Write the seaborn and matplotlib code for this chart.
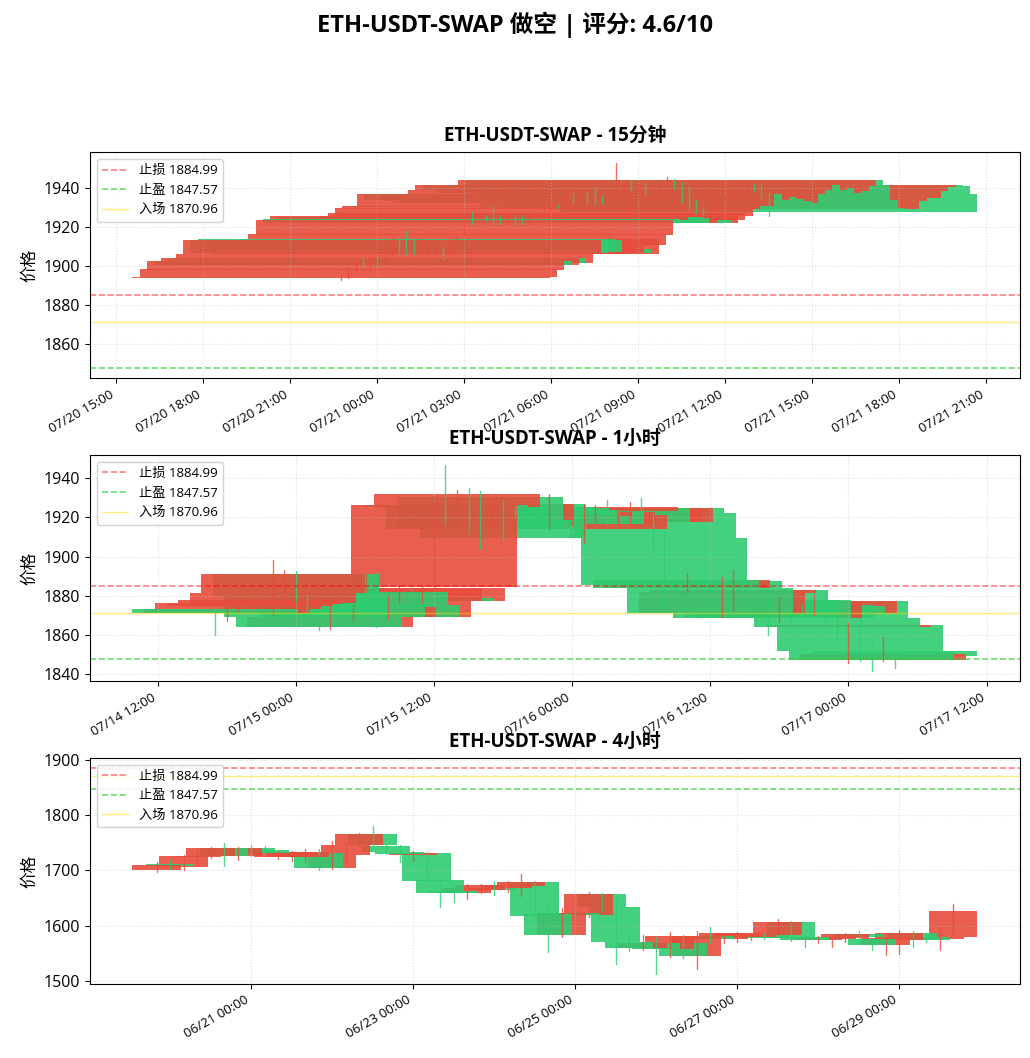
import matplotlib
matplotlib.use("Agg")
import matplotlib.pyplot as plt
import matplotlib.dates as mdates
import numpy as np
import pandas as pd
import seaborn as sns

SYMBOL = "ETH-USDT-SWAP"
STOP_LOSS = 1884.99
TAKE_PROFIT = 1847.57
ENTRY = 1870.96
SCORE = 4.6

UP = "#e74c3c"
DOWN = "#2ecc71"

# ---- 15 minute candles (60 bars from 07/20 22:45) ----
m15_start = "2023-07-20 22:45"
m15_open = [1893.8, 1894.3, 1897.7, 1902.4, 1900.3, 1903.8, 1901.5, 1906.1, 1913.5, 1914.0,
            1913.5, 1906.1, 1906.5, 1906.5, 1908.6, 1906.1, 1910.6, 1915.8, 1924.3, 1923.5,
            1925.2, 1925.0, 1924.8, 1922.1, 1923.5, 1923.5, 1922.1, 1923.5, 1925.6, 1929.3,
            1930.7, 1930.5, 1936.7, 1933.8, 1935.3, 1934.5, 1933.2, 1932.5, 1936.7, 1939.0,
            1941.5, 1939.0, 1939.8, 1937.5, 1938.5, 1941.0, 1944.0, 1941.5, 1933.6, 1929.5,
            1929.2, 1929.0, 1933.2, 1934.6, 1935.0, 1938.5, 1940.5, 1941.6, 1941.0, 1936.7]
m15_close = [1894.3, 1898.4, 1902.4, 1900.3, 1903.8, 1901.5, 1906.3, 1913.5, 1906.5, 1908.0,
             1907.0, 1911.0, 1910.0, 1912.0, 1906.5, 1914.0, 1916.2, 1923.8, 1922.1, 1925.5,
             1923.5, 1922.5, 1922.1, 1923.5, 1922.1, 1922.1, 1925.5, 1927.0, 1929.5, 1930.5,
             1930.3, 1936.7, 1933.8, 1935.3, 1934.5, 1933.2, 1932.5, 1936.7, 1939.0, 1941.5,
             1939.0, 1939.8, 1937.5, 1938.5, 1941.0, 1944.0, 1941.5, 1933.6, 1929.5, 1929.2,
             1929.0, 1933.2, 1934.6, 1935.0, 1938.5, 1940.5, 1941.5, 1941.0, 1936.7, 1927.8]
m15_high = [1895.6, 1899.2, 1903.1, 1904.0, 1904.6, 1904.5, 1907.0, 1914.3, 1914.6, 1917.8,
            1914.0, 1914.5, 1912.0, 1912.8, 1909.5, 1914.8, 1917.0, 1924.5, 1927.6, 1926.3,
            1926.0, 1930.7, 1926.0, 1924.3, 1926.0, 1926.0, 1926.2, 1927.8, 1930.2, 1931.2,
            1931.5, 1937.4, 1937.6, 1936.0, 1938.0, 1940.0, 1936.0, 1937.4, 1953.0, 1942.2,
            1944.0, 1940.5, 1942.5, 1939.2, 1941.8, 1945.5, 1944.6, 1943.0, 1941.0, 1934.0,
            1930.0, 1933.9, 1935.3, 1935.8, 1939.2, 1941.0, 1942.2, 1942.0, 1942.0, 1937.6]
m15_low = [1893.0, 1893.6, 1897.0, 1899.5, 1899.6, 1899.5, 1900.8, 1905.4, 1905.8, 1906.0,
           1906.0, 1905.5, 1905.5, 1905.8, 1903.0, 1905.4, 1909.9, 1915.1, 1921.4, 1922.8,
           1922.8, 1921.5, 1921.5, 1921.4, 1921.5, 1921.5, 1921.4, 1922.8, 1924.9, 1928.6,
           1929.6, 1929.8, 1932.5, 1933.1, 1932.0, 1932.0, 1932.0, 1931.8, 1936.0, 1938.3,
           1938.5, 1938.3, 1937.0, 1936.8, 1937.8, 1940.5, 1939.5, 1933.0, 1929.0, 1927.0,
           1925.0, 1928.3, 1932.5, 1933.9, 1934.3, 1938.0, 1939.8, 1938.5, 1935.0, 1925.5]

# ---- 1 hour candles (60 bars from 07/14 17:00) ----
h1_start = "2023-07-14 17:00"
h1_open = [1873.2, 1871.0, 1873.2, 1874.5, 1875.5, 1876.4, 1881.2, 1891.0, 1880.0, 1869.3,
           1863.7, 1875.3, 1868.9, 1882.0, 1875.3, 1868.9, 1877.0, 1879.0, 1877.0, 1884.6,
           1926.6, 1925.4, 1926.6, 1930.5, 1918.6, 1927.1, 1925.1, 1925.0, 1924.0, 1920.7,
           1922.7, 1916.7, 1914.3, 1923.4, 1924.6, 1917.7, 1917.7, 1924.6, 1922.1, 1909.7,
           1888.0, 1883.7, 1887.5, 1883.7, 1871.3, 1881.5, 1882.7, 1878.0, 1877.5, 1868.4,
           1875.3, 1874.6, 1871.0, 1877.3, 1868.4, 1863.9, 1864.9, 1851.8, 1846.9, 1851.8]
h1_close = [1871.0, 1873.0, 1876.4, 1876.4, 1877.5, 1881.2, 1891.0, 1880.0, 1869.3, 1863.7,
            1869.3, 1868.9, 1874.0, 1875.3, 1868.9, 1877.0, 1883.7, 1877.0, 1883.7, 1926.6,
            1925.4, 1932.2, 1914.3, 1914.3, 1927.1, 1909.7, 1923.4, 1921.0, 1920.7, 1922.7,
            1916.7, 1922.7, 1921.2, 1925.1, 1917.7, 1924.6, 1924.6, 1922.1, 1909.7, 1885.4,
            1883.7, 1888.0, 1883.7, 1871.3, 1882.0, 1882.7, 1878.0, 1868.4, 1868.4, 1877.3,
            1868.4, 1871.0, 1877.3, 1868.4, 1863.9, 1864.9, 1851.8, 1846.9, 1850.1, 1849.0]
h1_high = [1873.8, 1873.5, 1877.2, 1877.5, 1878.4, 1898.0, 1893.0, 1892.6, 1881.0, 1870.0,
           1876.4, 1876.5, 1875.0, 1891.4, 1891.4, 1880.0, 1884.8, 1884.6, 1884.5, 1928.0,
           1946.6, 1934.0, 1935.0, 1933.6, 1928.0, 1929.0, 1926.0, 1926.2, 1925.3, 1932.2,
           1923.8, 1927.0, 1926.2, 1926.5, 1928.8, 1925.5, 1927.9, 1930.0, 1922.5, 1912.6,
           1889.2, 1891.4, 1888.6, 1885.0, 1889.7, 1893.0, 1884.0, 1879.2, 1878.0, 1879.4,
           1876.4, 1875.8, 1881.0, 1881.0, 1868.4, 1865.9, 1868.4, 1855.6, 1859.0, 1853.0]
h1_low = [1860.0, 1867.2, 1872.0, 1873.2, 1874.3, 1870.0, 1879.0, 1876.8, 1868.0, 1862.5,
          1862.8, 1867.8, 1867.5, 1874.0, 1863.7, 1868.0, 1876.0, 1873.2, 1876.0, 1883.5,
          1916.0, 1921.0, 1912.0, 1904.0, 1917.5, 1908.0, 1921.0, 1919.8, 1919.5, 1914.0,
          1915.5, 1916.0, 1906.7, 1917.7, 1916.0, 1916.5, 1916.0, 1921.0, 1904.0, 1873.5,
          1882.5, 1882.0, 1882.6, 1870.0, 1869.3, 1872.6, 1876.8, 1867.2, 1860.0, 1866.7,
          1867.2, 1869.8, 1870.0, 1866.7, 1856.5, 1845.5, 1846.3, 1841.5, 1846.3, 1842.8]

# ---- 4 hour candles (60 bars from 06/19 20:00) ----
h4_start = "2023-06-19 20:00"
h4_open = [1700.0, 1711.0, 1707.0, 1725.0, 1725.5, 1741.0, 1727.0, 1741.0, 1737.5, 1723.6,
           1724.0, 1724.0, 1732.0, 1705.0, 1728.4, 1746.6, 1766.7, 1744.7, 1733.2, 1728.5,
           1731.0, 1682.7, 1662.0, 1659.5, 1664.5, 1668.7, 1667.5, 1672.3, 1679.6, 1621.8,
           1583.0, 1623.0, 1619.4, 1657.6, 1634.0, 1571.0, 1560.0, 1569.0, 1558.8, 1569.0,
           1544.8, 1581.2, 1575.2, 1581.0, 1580.0, 1583.0, 1583.0, 1607.3, 1580.0, 1575.0,
           1576.0, 1578.0, 1585.0, 1575.2, 1565.0, 1575.0, 1586.0, 1580.0, 1575.2, 1580.0]
h4_close = [1710.0, 1707.5, 1726.5, 1727.0, 1741.0, 1727.0, 1741.0, 1731.0, 1731.0, 1734.0,
            1734.0, 1734.0, 1705.0, 1728.4, 1746.6, 1766.7, 1745.5, 1733.2, 1729.0, 1731.0,
            1681.5, 1659.5, 1659.5, 1668.7, 1673.6, 1664.5, 1673.6, 1679.6, 1617.5, 1583.0,
            1623.0, 1620.0, 1657.6, 1634.0, 1571.0, 1560.0, 1569.0, 1557.6, 1581.2, 1544.8,
            1581.2, 1575.2, 1586.0, 1586.0, 1584.0, 1578.0, 1607.3, 1578.0, 1575.0, 1580.0,
            1580.0, 1585.0, 1580.0, 1564.8, 1578.0, 1586.0, 1575.0, 1575.0, 1580.0, 1626.7]
h4_high = [1715.0, 1719.0, 1728.0, 1735.8, 1743.0, 1749.7, 1742.5, 1746.7, 1744.2, 1736.0,
           1736.0, 1738.8, 1739.4, 1752.7, 1749.7, 1768.0, 1780.0, 1748.0, 1745.4, 1735.8,
           1732.6, 1684.0, 1673.6, 1674.8, 1675.8, 1680.9, 1681.2, 1693.7, 1680.9, 1637.0,
           1631.5, 1628.0, 1661.8, 1660.0, 1652.7, 1589.0, 1583.0, 1580.0, 1589.0, 1583.0,
           1590.3, 1598.0, 1587.0, 1589.0, 1586.0, 1585.0, 1612.0, 1609.0, 1583.0, 1581.0,
           1581.0, 1586.0, 1590.3, 1577.0, 1580.0, 1592.0, 1590.3, 1586.0, 1598.0, 1639.4]
h4_low = [1698.0, 1702.7, 1701.2, 1710.3, 1722.0, 1707.3, 1719.4, 1725.5, 1728.5, 1720.0,
          1716.4, 1715.2, 1700.0, 1703.0, 1716.4, 1744.0, 1743.6, 1730.0, 1716.2, 1717.6,
          1680.0, 1634.0, 1643.2, 1649.3, 1658.4, 1655.3, 1660.6, 1654.1, 1617.0, 1552.7,
          1580.0, 1612.0, 1616.4, 1626.7, 1531.5, 1554.5, 1555.8, 1513.3, 1543.6, 1542.4,
          1522.4, 1567.9, 1567.9, 1571.0, 1574.0, 1576.0, 1583.0, 1572.7, 1561.8, 1569.0,
          1561.8, 1571.0, 1571.0, 1555.8, 1546.7, 1549.7, 1561.8, 1569.7, 1555.8, 1580.0]


def build_frame(start, freq, o, h, l, c):
    times = pd.date_range(start, periods=len(o), freq=freq)
    return pd.DataFrame({"time": times, "open": o, "high": h, "low": l, "close": c})


def plot_candles(ax, df, title, locator):
    x = mdates.date2num(df["time"])
    # candles come newest first from the exchange, so the oldest bar ends up on top
    for i in range(len(df) - 1, -1, -1):
        o, h, l, c = df.loc[i, ["open", "high", "low", "close"]]
        color = UP if c >= o else DOWN
        ax.plot([x[i], x[i]], [l, h], color=color, linewidth=1, alpha=0.8)
        ax.bar(x[i], abs(c - o), bottom=min(o, c), width=0.6, color=color,
               alpha=0.9, linewidth=0)

    ax.axhline(STOP_LOSS, color="red", linestyle="--", linewidth=1.2, alpha=0.5,
               label=f"止损 {STOP_LOSS}")
    ax.axhline(TAKE_PROFIT, color="limegreen", linestyle="--", linewidth=1.2, alpha=0.7,
               label=f"止盈 {TAKE_PROFIT}")
    ax.axhline(ENTRY, color="gold", linestyle="-", linewidth=1, alpha=0.5,
               label=f"入场 {ENTRY}")

    lo = min(df["low"].min(), TAKE_PROFIT)
    hi = max(df["high"].max(), STOP_LOSS)
    pad = (hi - lo) * 0.05
    ax.set_ylim(lo - pad, hi + pad)

    ax.set_title(title, fontsize=13.5, fontweight="bold", pad=8)
    ax.set_ylabel("价格", fontsize=12)
    ax.xaxis.set_major_locator(locator)
    ax.xaxis.set_major_formatter(mdates.DateFormatter("%m/%d %H:%M"))
    for lab in ax.get_xticklabels():
        lab.set_rotation(30)
        lab.set_horizontalalignment("right")
        lab.set_fontsize(9.5)
    ax.tick_params(axis="y", labelsize=11.5)
    for side in ax.spines.values():
        side.set_color("black")
    ax.set_axisbelow("line")
    ax.grid(True, linestyle=":", color="#c0c0c0", alpha=0.5)
    ax.legend(loc="upper left", fontsize=9.5, framealpha=0.85)


sns.set_style("ticks")
plt.rcParams["font.family"] = ["Open Sans", "Noto Sans CJK SC", "DejaVu Sans"]
plt.rcParams["axes.unicode_minus"] = False
for key in ["text.color", "axes.labelcolor", "xtick.color", "ytick.color"]:
    plt.rcParams[key] = "black"

fig, axes = plt.subplots(3, 1, figsize=(10.3, 10.58), dpi=100)
fig.subplots_adjust(left=0.0874, right=0.990, top=0.856, bottom=0.070, hspace=0.34)

m15 = build_frame(m15_start, "15min", m15_open, m15_high, m15_low, m15_close)
h1 = build_frame(h1_start, "1h", h1_open, h1_high, h1_low, h1_close)
h4 = build_frame(h4_start, "4h", h4_open, h4_high, h4_low, h4_close)

plot_candles(axes[0], m15, f"{SYMBOL} - 15分钟", mdates.HourLocator(interval=3))
plot_candles(axes[1], h1, f"{SYMBOL} - 1小时", mdates.HourLocator(byhour=[0, 12]))
plot_candles(axes[2], h4, f"{SYMBOL} - 4小时", mdates.DayLocator(interval=2))

fig.suptitle(f"{SYMBOL} 做空 | 评分: {SCORE}/10", fontsize=17, fontweight="bold", y=0.989)

fig.savefig("out.png", dpi=100)
